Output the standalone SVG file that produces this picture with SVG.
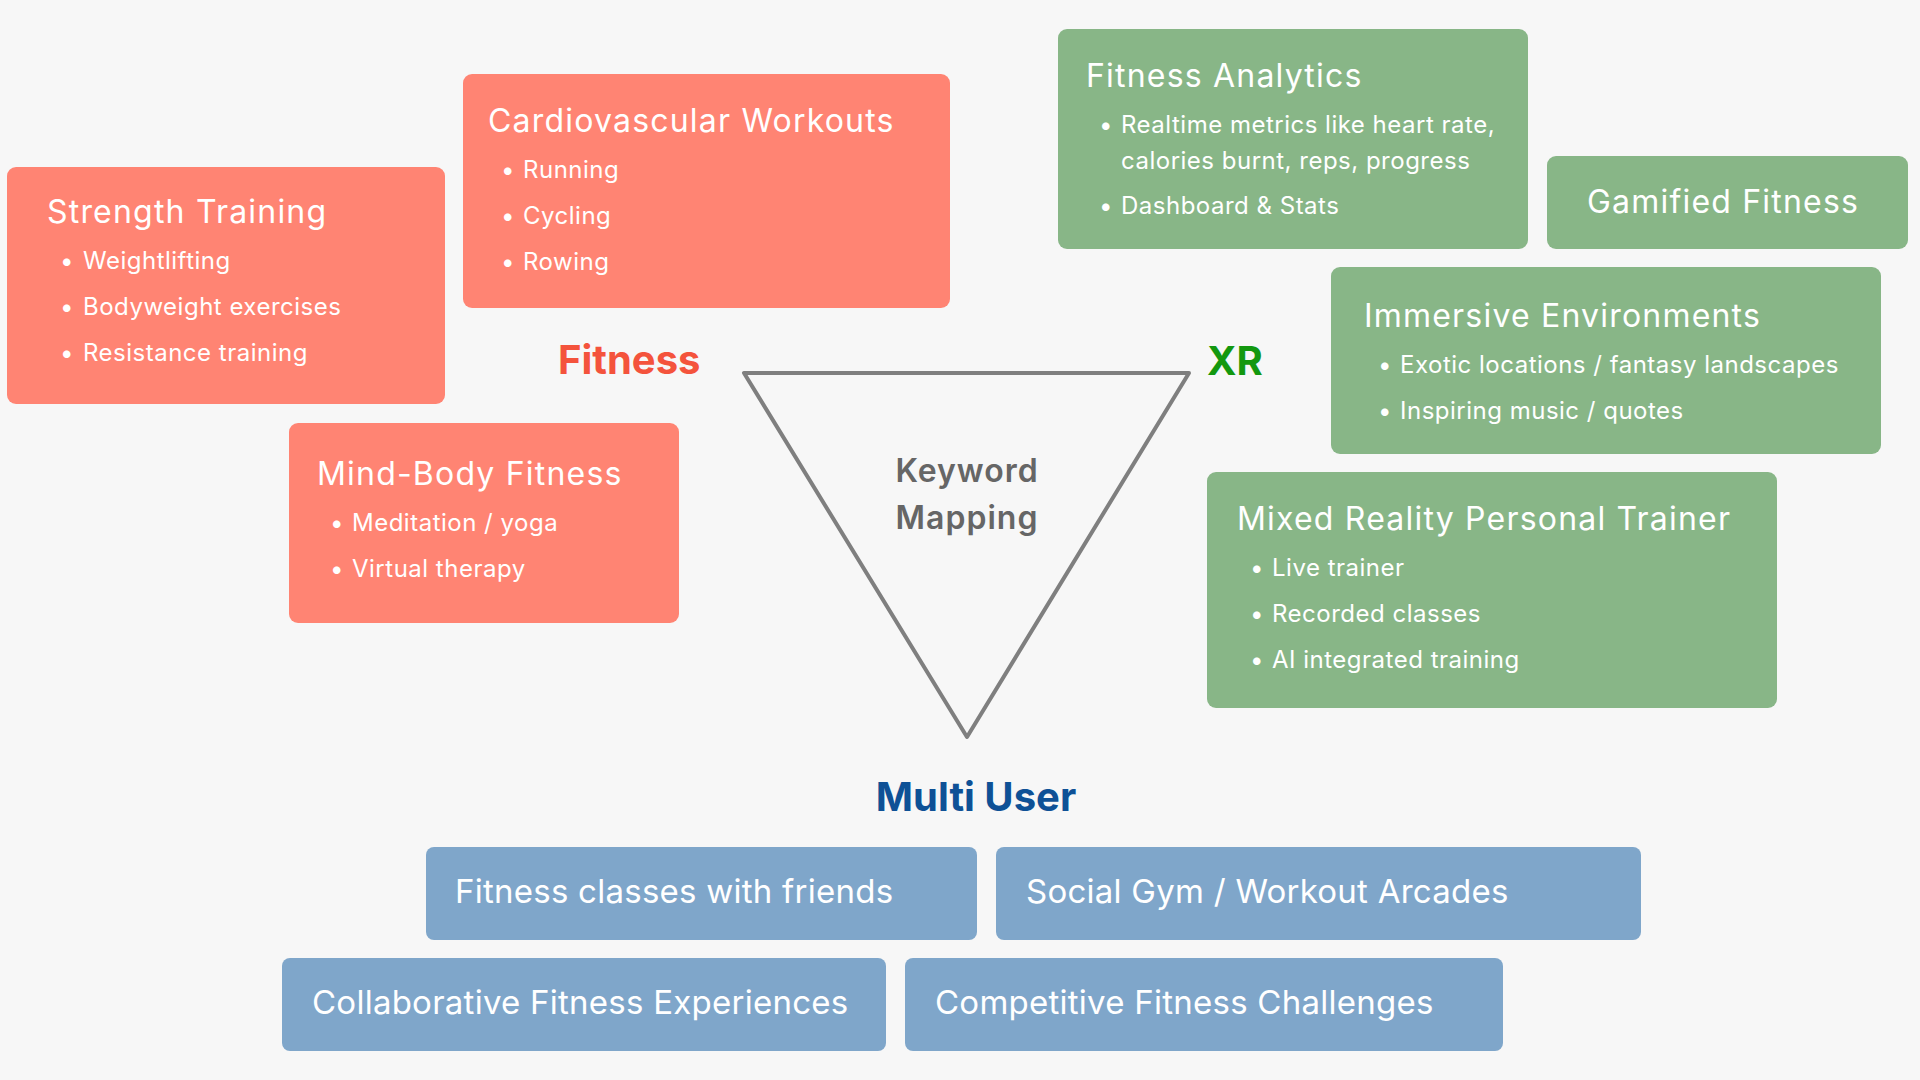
<svg xmlns="http://www.w3.org/2000/svg" width="1920" height="1080" viewBox="0 0 1920 1080">
<style>
text{font-family:Inter,"Open Sans","Liberation Sans",sans-serif;fill:#fff}
.red{fill:#FF8473}
.grn{fill:#88B687}
.blu{fill:#7FA6CA}
.t{font-size:32px;letter-spacing:1.2px}
.b{font-size:24px;letter-spacing:0.5px}
.m{font-size:33px;letter-spacing:0.25px}
.lab{font-size:40px;font-weight:700}
.kw{font-size:32px;font-weight:600;letter-spacing:1px;fill:#666}
</style>
<rect width="1920" height="1080" fill="#F7F7F7"/>
<g id="strength-training">
<rect class="red" x="7" y="167" width="438" height="237" rx="9"/>
<text class="t" x="47" y="223">Strength Training</text>
<text class="b" x="60" y="269">•</text><text class="b" x="83" y="269">Weightlifting</text>
<text class="b" x="60" y="315">•</text><text class="b" x="83" y="315">Bodyweight exercises</text>
<text class="b" x="60" y="361">•</text><text class="b" x="83" y="361">Resistance training</text>
</g>
<g id="cardio">
<rect class="red" x="463" y="74" width="487" height="234" rx="9"/>
<text class="t" x="488" y="132">Cardiovascular Workouts</text>
<text class="b" x="501" y="178">•</text><text class="b" x="523" y="178">Running</text>
<text class="b" x="501" y="224">•</text><text class="b" x="523" y="224">Cycling</text>
<text class="b" x="501" y="270">•</text><text class="b" x="523" y="270">Rowing</text>
</g>
<g id="mind-body">
<rect class="red" x="289" y="423" width="390" height="200" rx="9"/>
<text class="t" x="317" y="485">Mind-Body Fitness</text>
<text class="b" x="330" y="531">•</text><text class="b" x="352" y="531">Meditation / yoga</text>
<text class="b" x="330" y="577">•</text><text class="b" x="352" y="577">Virtual therapy</text>
</g>
<g id="fitness-analytics">
<rect class="grn" x="1058" y="29" width="470" height="220" rx="9"/>
<text class="t" x="1086" y="87">Fitness Analytics</text>
<text class="b" x="1099" y="133">•</text><text class="b" x="1121" y="133">Realtime metrics like heart rate,</text>
<text class="b" x="1121" y="169">calories burnt, reps, progress</text>
<text class="b" x="1099" y="214">•</text><text class="b" x="1121" y="214">Dashboard &amp; Stats</text>
</g>
<g id="gamified-fitness">
<rect class="grn" x="1547" y="156" width="361" height="93" rx="9"/>
<text class="t" x="1587" y="213">Gamified Fitness</text>
</g>
<g id="immersive">
<rect class="grn" x="1331" y="267" width="550" height="187" rx="9"/>
<text class="t" x="1364" y="327">Immersive Environments</text>
<text class="b" x="1378" y="373">•</text><text class="b" x="1400" y="373">Exotic locations / fantasy landscapes</text>
<text class="b" x="1378" y="419">•</text><text class="b" x="1400" y="419">Inspiring music / quotes</text>
</g>
<g id="mixed-reality">
<rect class="grn" x="1207" y="472" width="570" height="236" rx="9"/>
<text class="t" x="1237" y="530">Mixed Reality Personal Trainer</text>
<text class="b" x="1250" y="576">•</text><text class="b" x="1272" y="576">Live trainer</text>
<text class="b" x="1250" y="622">•</text><text class="b" x="1272" y="622">Recorded classes</text>
<text class="b" x="1250" y="668">•</text><text class="b" x="1272" y="668">AI integrated training</text>
</g>
<g id="keyword-mapping">
<polygon points="744,373 1189,373 967,737" fill="none" stroke="#7F7F7F" stroke-width="4" stroke-linejoin="round"/>
<text class="kw" x="967" y="482" text-anchor="middle">Keyword</text>
<text class="kw" x="967" y="529" text-anchor="middle">Mapping</text>
</g>
<g id="labels">
<text class="lab" x="558" y="374" style="fill:#F4533C">Fitness</text>
<text class="lab" x="1207" y="375" style="fill:#13980F">XR</text>
<text class="lab" x="976" y="811" text-anchor="middle" style="fill:#0E5196">Multi User</text>
</g>
<g id="friends">
<rect class="blu" x="426" y="847" width="551" height="93" rx="8"/>
<text class="m" x="455" y="903">Fitness classes with friends</text>
</g>
<g id="social-gym">
<rect class="blu" x="996" y="847" width="645" height="93" rx="8"/>
<text class="m" x="1026" y="903">Social Gym / Workout Arcades</text>
</g>
<g id="collaborative">
<rect class="blu" x="282" y="958" width="604" height="93" rx="8"/>
<text class="m" x="312" y="1014">Collaborative Fitness Experiences</text>
</g>
<g id="competitive">
<rect class="blu" x="905" y="958" width="598" height="93" rx="8"/>
<text class="m" x="935" y="1014">Competitive Fitness Challenges</text>
</g>
<g id="connectors"/>
</svg>
